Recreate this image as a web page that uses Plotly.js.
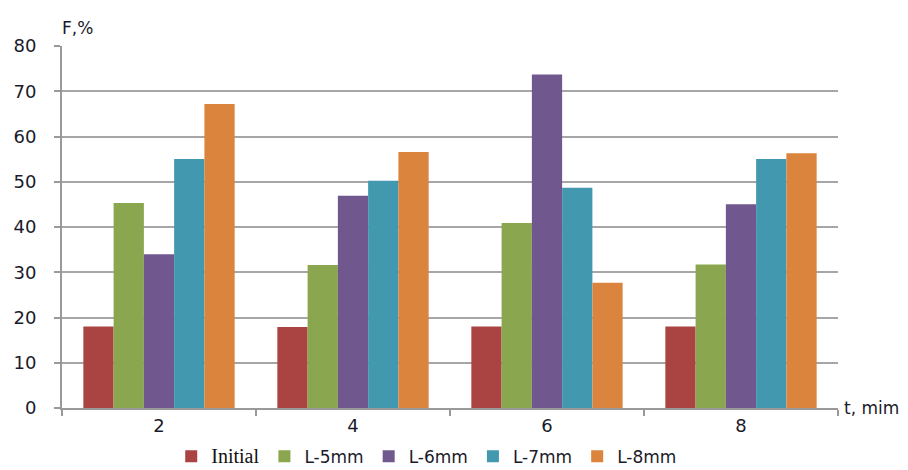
<!DOCTYPE html>
<html>
<head>
<meta charset="utf-8">
<script src="https://cdn.plot.ly/plotly-3.0.1.min.js"></script>
<style>html,body{margin:0;padding:0;background:#fff;}#chart{width:908px;height:470px;}</style>
</head>
<body>
<div id="chart"></div>
<script>
var categories = ["2", "4", "6", "8"];
var seriesNames = ["Initial", "L-5mm", "L-6mm", "L-7mm", "L-8mm"];
var initialVals = [18.0, 17.9, 18.0, 18.0];
var l5Vals = [45.3, 31.6, 40.9, 31.7];
var l6Vals = [34.0, 46.9, 73.7, 45.0];
var l7Vals = [55.0, 50.2, 48.7, 55.0];
var l8Vals = [67.2, 56.6, 27.7, 56.3];
var yTicks = [0, 10, 20, 30, 40, 50, 60, 70, 80];

var colors = ["#A94442", "#8AA64E", "#70588F", "#4198AF", "#DB843D"];
var allVals = [initialVals, l5Vals, l6Vals, l7Vals, l8Vals];
var labels = [
  '<span style="font-family:\'Liberation Serif\',serif;font-size:20px;color:#111">Initial</span>',
  seriesNames[1], seriesNames[2], seriesNames[3], seriesNames[4]
];

var data = allVals.map(function (v, i) {
  return {
    type: "bar",
    name: labels[i],
    x: categories,
    y: v,
    marker: {color: colors[i], line: {width: 0}},
    hoverinfo: "none"
  };
});

var font = "DejaVu Sans, Verdana, sans-serif";
var layout = {
  width: 908, height: 470,
  margin: {l: 62, r: 70, t: 46, b: 62, autoexpand: false},
  paper_bgcolor: "#fff", plot_bgcolor: "#fff",
  barmode: "group", bargap: 0.22, bargroupgap: 0,
  font: {family: font, size: 17, color: "#1a1a2a"},
  showlegend: true,
  legend: {
    orientation: "h", x: 0.47, xanchor: "center", y: -0.085, yanchor: "top",
    font: {family: font, size: 17, color: "#1a1a2a"},
    itemwidth: 30, traceorder: "normal", tracegroupgap: 0
  },
  xaxis: {
    type: "category",
    showline: true, linecolor: "#999", linewidth: 2,
    ticks: "outside", tickson: "boundaries", ticklen: 6, tickcolor: "#999", tickwidth: 2,
    showgrid: false, zeroline: false,
    tickfont: {family: font, size: 18, color: "#1a1a2a"}
  },
  yaxis: {
    range: [0, 80], tickvals: yTicks, ticktext: yTicks.map(String),
    showline: true, linecolor: "#999", linewidth: 2,
    ticks: "outside", ticklen: 6, tickcolor: "#999", tickwidth: 2,
    ticklabelstandoff: 14,
    showgrid: true, gridcolor: "#a6a6a6", gridwidth: 2,
    zeroline: false,
    tickfont: {family: font, size: 18, color: "#1a1a2a"}
  },
  annotations: [
    {text: "F,%", xref: "paper", yref: "paper", x: 0, y: 1, xanchor: "left", yanchor: "bottom",
     yshift: 6, xshift: -2, showarrow: false, font: {family: font, size: 17, color: "#1a1a2a"}},
    {text: "t, mim", xref: "paper", yref: "paper", x: 1, y: 0, xanchor: "left", yanchor: "middle",
     xshift: 4, showarrow: false, font: {family: font, size: 17, color: "#1a1a2a"}}
  ]
};

Plotly.newPlot("chart", data, layout, {displayModeBar: false, staticPlot: true});
</script>
</body>
</html>
